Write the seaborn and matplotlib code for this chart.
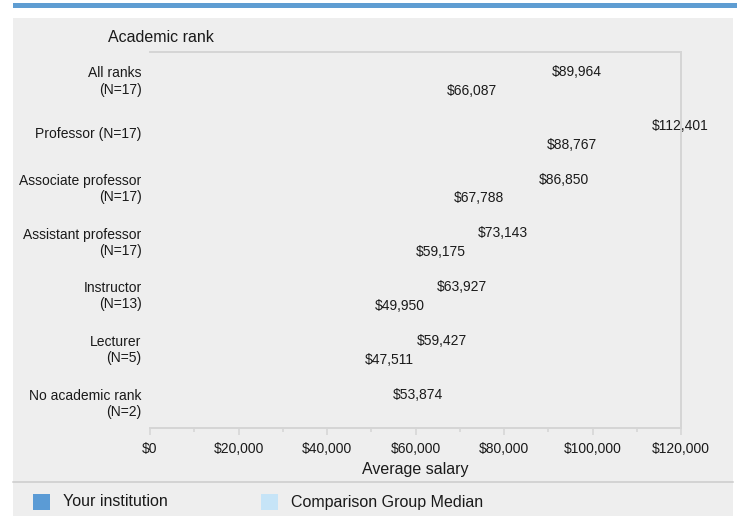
import matplotlib
matplotlib.use("Agg")
import matplotlib.pyplot as plt
import seaborn as sns
import pandas as pd
import numpy as np
from matplotlib.patches import Rectangle
from matplotlib.lines import Line2D
from matplotlib.ticker import MultipleLocator, FuncFormatter

# ---- data ----
categories = [
    "All ranks\n(N=17)",
    "Professor (N=17)",
    "Associate professor\n(N=17)",
    "Assistant professor\n(N=17)",
    "Instructor\n(N=13)",
    "Lecturer\n(N=5)",
    "No academic rank\n(N=2)",
]
your_institution = [89964, 112401, 86850, 73143, 63927, 59427, 53874]
comparison_median = [66087, 88767, 67788, 59175, 49950, 47511, np.nan]
series_names = ["Your institution", "Comparison Group Median"]
series_colors = ["#5b9bd5", "#c6e4f7"]
x_ticks = [0, 20000, 40000, 60000, 80000, 100000, 120000]
title_text = "Academic rank"
x_label = "Average salary"

df = pd.DataFrame({
    "category": categories * 2,
    "salary": your_institution + comparison_median,
    "series": [series_names[0]] * len(categories) + [series_names[1]] * len(categories),
})

sns.set_theme(style="white")
plt.rcParams["font.family"] = ["Liberation Sans", "DejaVu Sans"]
TXT = "#1a1a1a"
FRAME = "#d5d5d5"

W, H = 737, 516
fig = plt.figure(figsize=(W / 100, H / 100), dpi=100, facecolor="white")

def fx(px):
    return px / W

def fy(py):
    return 1 - py / H

# top stripe and grey panel (behind the axes)
fig.patches.append(Rectangle((fx(13), fy(7.5)), 1 - fx(13), 4.5 / H, transform=fig.transFigure,
                             facecolor="#5f9dd2", edgecolor="none", zorder=-2))
fig.patches.append(Rectangle((fx(13), 0), fx(733) - fx(13), fy(18), transform=fig.transFigure,
                             facecolor="#eeeeee", edgecolor="none", zorder=-2))
fig.lines.append(Line2D([fx(13), fx(733)], [fy(482), fy(482)], transform=fig.transFigure,
                        color="#d3d3d3", lw=1.4, zorder=-1))

ax = fig.add_axes([fx(150), fy(428), fx(681) - fx(150), fy(52) - fy(428)])
ax.set_facecolor("none")
ax.set_zorder(1)

sns.barplot(data=df, y="category", x="salary", hue="series", order=categories,
            hue_order=series_names, palette=series_colors, orient="h",
            width=0.7, ax=ax, legend=False, errorbar=None)

# bars are not drawn in the reference, only their value labels
for cont in ax.containers:
    for p in cont:
        p.set_facecolor("none")
        p.set_edgecolor("none")
    anns = ax.bar_label(cont, fmt=lambda v: "" if np.isnan(v) else f"${v:,.0f}",
                        padding=3, fontsize=10, color=TXT, clip_on=False)
    for a in anns:
        a.xyann = (3, -2)

ax.set_xlim(0, 120000)
ax.set_ylim(len(categories) - 0.5, -0.5)
ax.set_xticks(x_ticks)
ax.xaxis.set_minor_locator(MultipleLocator(10000))
ax.xaxis.set_major_formatter(FuncFormatter(lambda v, p: f"${v:,.0f}"))
ax.tick_params(axis="x", which="major", length=5, width=1.1, color=FRAME,
               labelsize=10, labelcolor=TXT, pad=5, bottom=True)
ax.tick_params(axis="x", which="minor", length=3, width=1.1, color=FRAME, bottom=True)
ax.tick_params(axis="y", length=0, labelsize=10, labelcolor=TXT, pad=6)
ax.set_yticks(range(len(categories)), labels=categories, multialignment="right")
ax.set_ylabel("")
ax.set_xlabel(x_label, fontsize=11.5, color=TXT, labelpad=4.5)

for s in ["top", "right", "bottom"]:
    ax.spines[s].set_visible(True)
    ax.spines[s].set_color(FRAME)
    ax.spines[s].set_linewidth(1.4)
ax.spines["left"].set_visible(False)

fig.text(fx(108), fy(37), title_text, fontsize=11.5, color=TXT, va="center", ha="left")

# legend
leg_x = [33, 261]
for xpos, name, col in zip(leg_x, series_names, series_colors):
    fig.patches.append(Rectangle((fx(xpos), fy(510)), 17 / W, 16 / H, transform=fig.transFigure,
                                 facecolor=col, edgecolor="none", zorder=2))
    fig.text(fx(xpos + 30), fy(502), name, fontsize=11.5, color=TXT, va="center", ha="left")

fig.canvas.draw()
for lbl in ax.get_yticklabels():
    lbl.set_multialignment("right")

fig.savefig("out.png", dpi=100, facecolor="white")
